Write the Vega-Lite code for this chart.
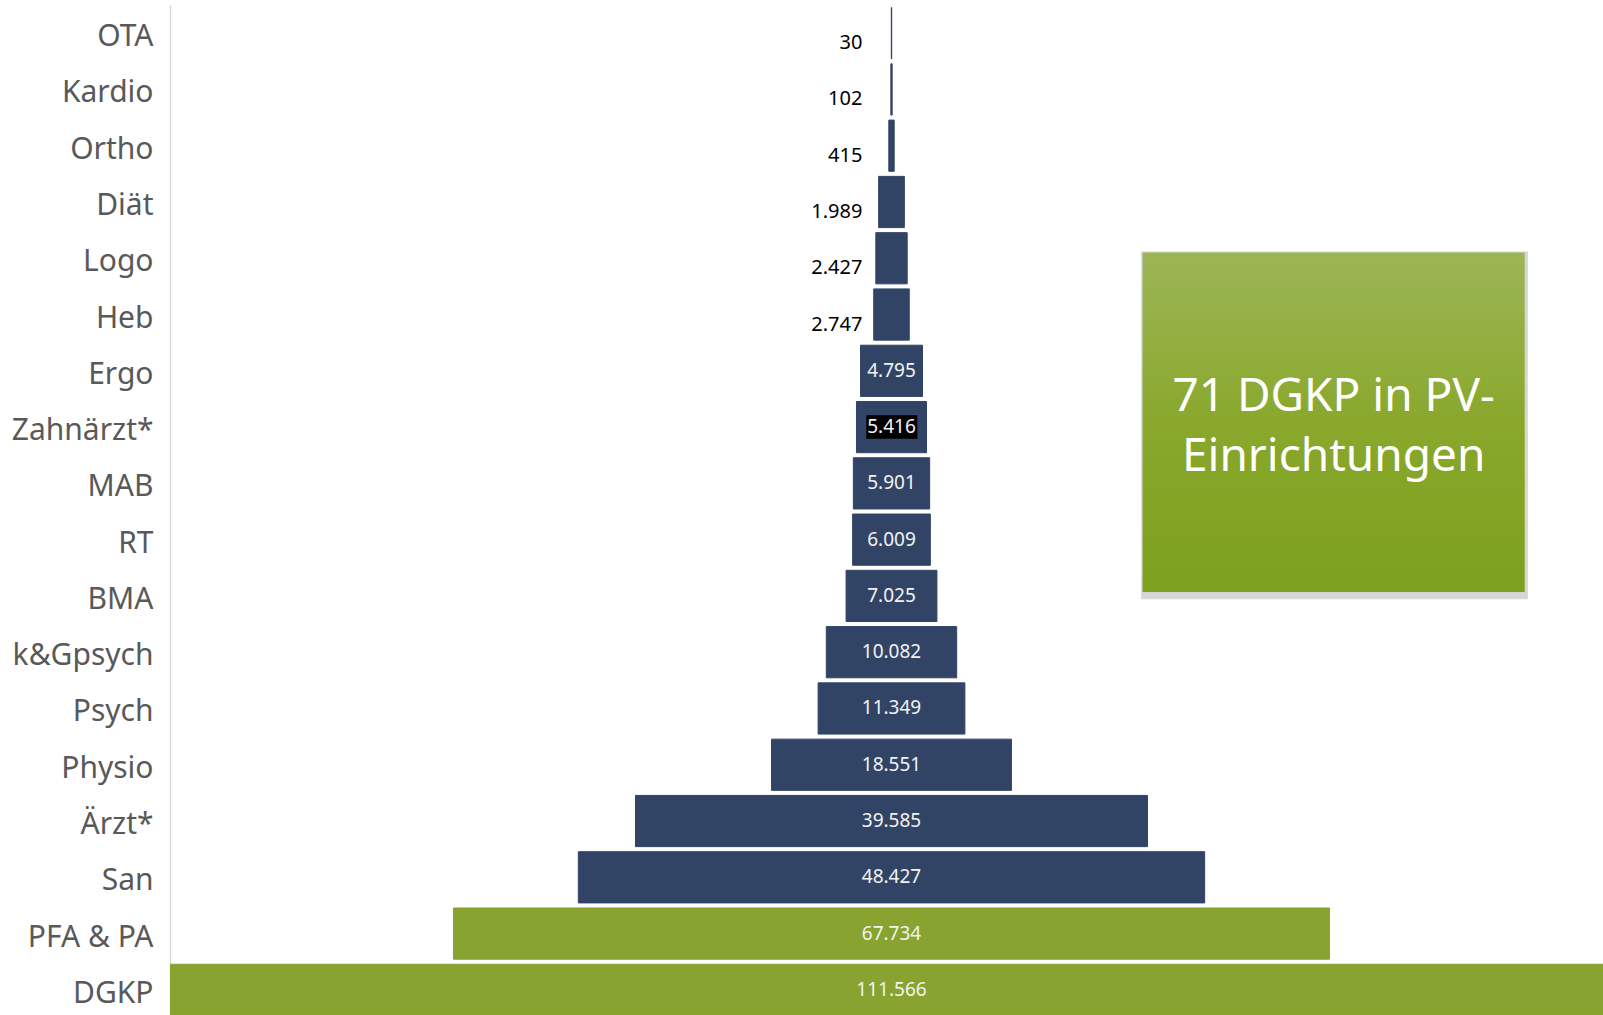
{
  "$schema": "https://vega.github.io/schema/vega-lite/v6.json",
  "width": 1433,
  "height": 1013,
  "autosize": "none",
  "padding": {"left": 170, "top": 5, "right": 0, "bottom": 0},
  "background": "white",
  "config": {
    "view": {"stroke": null},
    "font": "Noto Sans",
    "locale": {"number": {"decimal": ",", "thousands": ".", "grouping": [3], "currency": ["", " €"]}},
    "axisY": {
      "labelFont": "Noto Sans",
      "labelFontSize": 30,
      "labelColor": "#595959",
      "ticks": false,
      "domainColor": "#d9d9d9",
      "domainWidth": 1.5,
      "labelPadding": 17,
      "labelOffset": 4
    }
  },
  "datasets": {
    "berufe": [
      {"Beruf": "OTA", "Anzahl": 30},
      {"Beruf": "Kardio", "Anzahl": 102},
      {"Beruf": "Ortho", "Anzahl": 415},
      {"Beruf": "Diät", "Anzahl": 1989},
      {"Beruf": "Logo", "Anzahl": 2427},
      {"Beruf": "Heb", "Anzahl": 2747},
      {"Beruf": "Ergo", "Anzahl": 4795},
      {"Beruf": "Zahnärzt*", "Anzahl": 5416},
      {"Beruf": "MAB", "Anzahl": 5901},
      {"Beruf": "RT", "Anzahl": 6009},
      {"Beruf": "BMA", "Anzahl": 7025},
      {"Beruf": "k&Gpsych", "Anzahl": 10082},
      {"Beruf": "Psych", "Anzahl": 11349},
      {"Beruf": "Physio", "Anzahl": 18551},
      {"Beruf": "Ärzt*", "Anzahl": 39585},
      {"Beruf": "San", "Anzahl": 48427},
      {"Beruf": "PFA & PA", "Anzahl": 67734},
      {"Beruf": "DGKP", "Anzahl": 111566}
    ],
    "note": [{"label": "71 DGKP in PV-\nEinrichtungen"}]
  },
  "layer": [
    {
      "data": {"name": "berufe"},
      "layer": [
        {
          "mark": {"type": "bar", "clip": true, "strokeWidth": 1},
          "encoding": {
            "y": {"field": "Beruf", "type": "nominal", "sort": null, "title": null,
                  "scale": {"paddingInner": 0.09, "paddingOuter": 0.045}},
            "x": {"field": "Anzahl", "type": "quantitative", "stack": "center", "axis": null,
                  "scale": {"domain": [0, 110793], "nice": false, "zero": false}},
            "color": {"condition": {"test": "datum.Beruf === 'DGKP' || datum.Beruf === 'PFA & PA'", "value": "#88A32F"}, "value": "#324465"},
            "stroke": {"condition": {"test": "datum.Beruf === 'DGKP' || datum.Beruf === 'PFA & PA'", "value": "#88A32F"}, "value": "#324465"}
          }
        },
        {
          "transform": [{"filter": "datum.Beruf === 'Zahnärzt*'"}],
          "mark": {"type": "bar", "color": "#000000", "height": {"band": 0.46}},
          "encoding": {
            "y": {"field": "Beruf", "type": "nominal", "sort": null, "title": null},
            "x": {"datum": 53833, "type": "quantitative", "axis": null},
            "x2": {"datum": 57783}
          }
        },
        {
          "transform": [{"filter": "datum.Anzahl >= 4000"}],
          "mark": {"type": "text", "color": "#f2f2f2", "fontSize": 19, "align": "center", "baseline": "middle", "font": "Noto Sans"},
          "encoding": {
            "y": {"field": "Beruf", "type": "nominal", "sort": null, "title": null},
            "x": {"datum": 55783, "type": "quantitative", "axis": null},
            "text": {"field": "Anzahl", "type": "quantitative", "format": ",d"}
          }
        },
        {
          "transform": [{"filter": "datum.Anzahl < 4000"}],
          "mark": {"type": "text", "color": "#000000", "fontSize": 20, "align": "right", "baseline": "middle", "font": "Noto Sans", "dy": 10},
          "encoding": {
            "y": {"field": "Beruf", "type": "nominal", "sort": null, "title": null},
            "x": {"datum": 53533, "type": "quantitative", "axis": null},
            "text": {"field": "Anzahl", "type": "quantitative", "format": ",d"}
          }
        }
      ]
    },
    {
      "data": {"name": "note"},
      "layer": [
        {
          "mark": {"type": "rect", "color": "#8a8a8a", "opacity": 0.35},
          "encoding": {
            "x": {"datum": 75083, "type": "quantitative", "axis": null},
            "x2": {"datum": 104983},
            "y": {"datum": 4.38, "type": "quantitative", "axis": null, "scale": {"domain": [0, 18], "reverse": true, "nice": false, "zero": false}},
            "y2": {"datum": 10.56}
          }
        },
        {
          "mark": {"type": "rect", "color": {"gradient": "linear", "x1": 0, "y1": 0, "x2": 0, "y2": 1,
                   "stops": [{"offset": 0, "color": "#9CB656"}, {"offset": 0.5, "color": "#89A82C"}, {"offset": 1, "color": "#7DA01E"}]}},
          "encoding": {
            "x": {"datum": 75195, "type": "quantitative", "axis": null},
            "x2": {"datum": 104739},
            "y": {"datum": 4.40, "type": "quantitative", "axis": null},
            "y2": {"datum": 10.43}
          }
        },
        {
          "mark": {"type": "text", "color": "#ffffff", "fontSize": 46, "lineHeight": 60, "lineBreak": "\n", "align": "center", "baseline": "middle", "font": "Noto Sans"},
          "encoding": {
            "x": {"datum": 89967, "type": "quantitative", "axis": null},
            "y": {"datum": 6.96, "type": "quantitative", "axis": null},
            "text": {"field": "label"}
          }
        }
      ]
    }
  ],
  "resolve": {"scale": {"y": "independent"}}
}
